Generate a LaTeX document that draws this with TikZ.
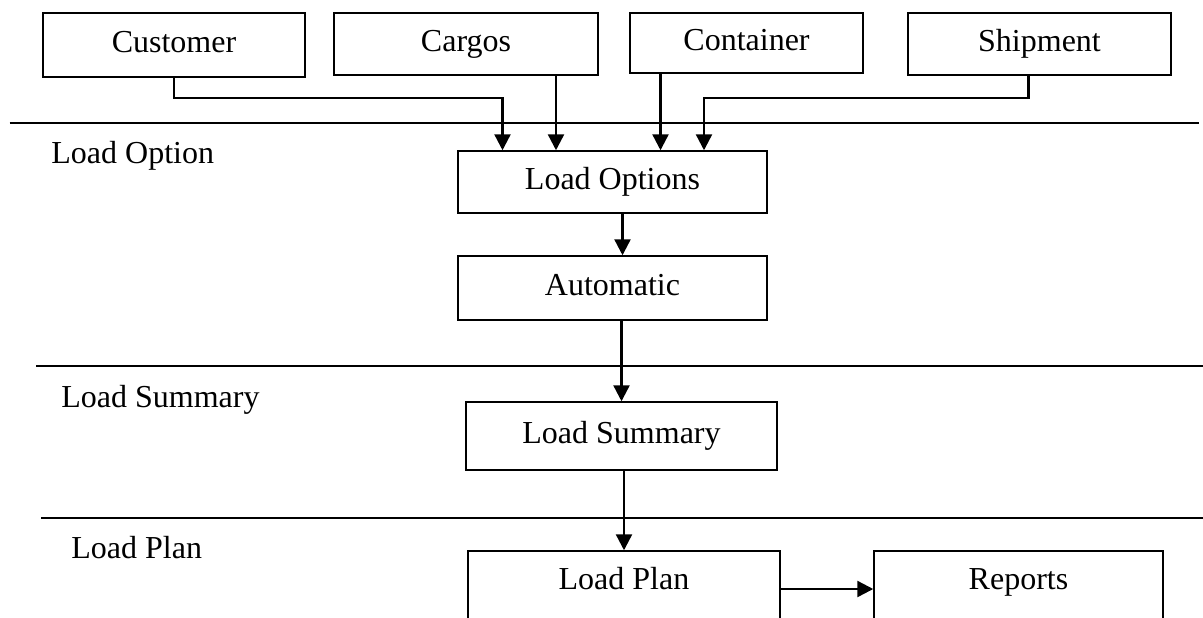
\documentclass[tikz,border=0pt]{standalone}
\usepackage{fontspec}
\setmainfont{Liberation Serif}
\usetikzlibrary{arrows.meta}

\begin{document}
\begin{tikzpicture}[x=0.5pt,y=-0.5pt,
  box/.style={draw,line width=0.75pt,inner sep=0pt,font=\fontsize{16}{19}\selectfont,text height=11pt,text depth=3.5pt},
  flow/.style={line width=1.2pt,-{Triangle[length=8pt,width=8pt]}},
  lane/.style={line width=1pt},
  lanetext/.style={anchor=base west,inner sep=0pt,font=\fontsize{16}{19}\selectfont}]
\useasboundingbox (0,0) rectangle (1203,617);
\node[box,minimum width=131pt,minimum height=32pt] (cust) at (174,45) {Customer};
\node[box,minimum width=132pt,minimum height=31pt] (cargo) at (466,44) {Cargos};
\node[box,minimum width=116.5pt,minimum height=30pt] (cont) at (746.5,43) {Container};
\node[box,minimum width=131.5pt,minimum height=31pt] (ship) at (1039.5,44) {Shipment};
\draw[lane] (9.5,122.5) -- (1199,122.5);
\node[lanetext] (optlane) at (51,163) {Load Option};
\node[box,minimum width=154.5pt,minimum height=31pt] (lopt) at (612.5,182) {Load Options};
\node[box,minimum width=154.5pt,minimum height=32pt] (auto) at (612.5,288) {Automatic};
\draw[lane] (36,366) -- (1203,366);
\node[lanetext] (sumlane) at (61,407) {Load Summary};
\node[box,minimum width=155.5pt,minimum height=34pt] (lsum) at (621.5,436) {Load Summary};
\draw[lane] (41,518) -- (1203,518);
\node[lanetext] (planlane) at (71,558) {Load Plan};
\node[box,minimum width=156pt,minimum height=38pt,text depth=11pt] (lplan) at (624,589) {Load Plan};
\node[box,minimum width=144.5pt,minimum height=38pt,text depth=11pt] (rep) at (1018.5,589) {Reports};
\draw[flow] (cust.south) -- ++(0,20) -| ([shift={(-110,0)}]lopt.north);
\draw[flow] ([shift={(90,0)}]cargo.south) -- ([shift={(-56.5,0)}]lopt.north);
\draw[flow] ([shift={(-86,0)}]cont.south) -- ([shift={(48,0)}]lopt.north);
\draw[flow] ([shift={(-11,0)}]ship.south) -- ++(0,22) -| ([shift={(91.5,0)}]lopt.north);
\draw[flow] ([shift={(10,0)}]lopt.south) -- ([shift={(10,0)}]auto.north);
\draw[flow] (auto.south -| lsum.north) -- (lsum.north);
\draw[flow] (lsum.south -| lplan.north) -- (lplan.north);
\draw[flow] (lplan.east) -- (lplan.east -| rep.west);
\end{tikzpicture}
\end{document}
